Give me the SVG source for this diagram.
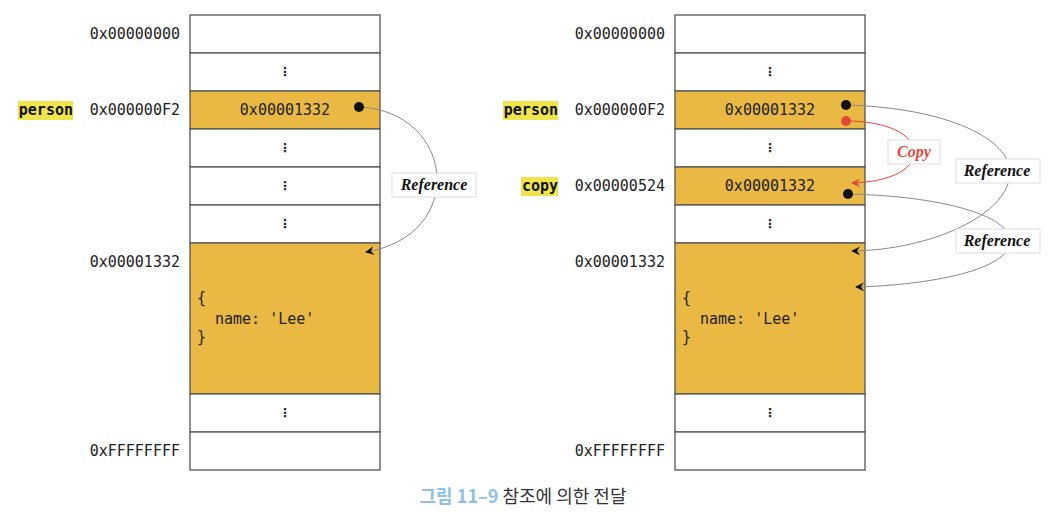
<svg xmlns="http://www.w3.org/2000/svg" width="1062" height="522" viewBox="0 0 1062 522">
<style>
.cell{fill:#fff;stroke:#555;stroke-width:1.3}
.y{fill:#E9B943}
.mono{font-family:"DejaVu Sans Mono","Liberation Mono",monospace;font-size:15px;fill:#222}
.addr{text-anchor:end}
.val{text-anchor:middle}
.var{font-family:"DejaVu Sans Mono","Liberation Mono",monospace;font-size:15px;font-weight:bold;fill:#111;text-anchor:end}
.hl{fill:#EDE54B}
.dots{font-family:"DejaVu Sans",sans-serif;font-size:12px;font-weight:bold;fill:#222;text-anchor:middle}
.conn{fill:none;stroke:#888;stroke-width:1}
.red{stroke:#E0483C}
.lbox{fill:#fff;stroke:#ddd;stroke-width:1}
.ltxt{font-family:"Liberation Serif",serif;font-style:italic;font-weight:bold;font-size:16px;fill:#111;text-anchor:middle}
</style>
<defs>
<marker id="arr" viewBox="0 0 10 10" refX="9" refY="5" markerWidth="9" markerHeight="9" markerUnits="userSpaceOnUse" orient="auto">
<path d="M10,5 L0,0 L3.5,5 L0,10 Z" fill="#111"/>
</marker>
<marker id="arrR" viewBox="0 0 10 10" refX="9" refY="5" markerWidth="9" markerHeight="9" markerUnits="userSpaceOnUse" orient="auto">
<path d="M10,5 L0,0 L3.5,5 L0,10 Z" fill="#E0483C"/>
</marker>
</defs>
<rect width="1062" height="522" fill="#fff"/>

<!-- LEFT MEMORY -->
<g id="left-memory">
<g id="L-r0"><rect class="cell" x="190" y="15" width="190" height="38"/><text class="mono addr" x="180" y="39">0x00000000</text></g>
<g id="L-r1"><rect class="cell" x="190" y="53" width="190" height="38"/><text class="dots" x="285" y="76">⋮</text></g>
<g id="L-r2"><rect class="cell y" x="190" y="91" width="190" height="38"/><text class="mono val" x="285" y="115">0x00001332</text><text class="mono addr" x="180" y="115">0x000000F2</text><rect class="hl" x="18" y="101" width="55" height="19"/><text class="var" x="73" y="115">person</text></g>
<g id="L-r3"><rect class="cell" x="190" y="129" width="190" height="38"/><text class="dots" x="285" y="152">⋮</text></g>
<g id="L-r4"><rect class="cell" x="190" y="167" width="190" height="38"/><text class="dots" x="285" y="190">⋮</text></g>
<g id="L-r5"><rect class="cell" x="190" y="205" width="190" height="38"/><text class="dots" x="285" y="228">⋮</text></g>
<g id="L-r6"><rect class="cell y" x="190" y="243" width="190" height="151"/><text class="mono addr" x="180" y="267">0x00001332</text>
<text class="mono" x="197" y="303">{</text><text class="mono" x="215" y="324">name: 'Lee'</text><text class="mono" x="197" y="342">}</text></g>
<g id="L-r7"><rect class="cell" x="190" y="394" width="190" height="38"/><text class="dots" x="285" y="417">⋮</text></g>
<g id="L-r8"><rect class="cell" x="190" y="432" width="190" height="38"/><text class="mono addr" x="180" y="456">0xFFFFFFFF</text></g>
</g>

<!-- RIGHT MEMORY -->
<g id="right-memory">
<g id="R-r0"><rect class="cell" x="675" y="15" width="190" height="38"/><text class="mono addr" x="665" y="39">0x00000000</text></g>
<g id="R-r1"><rect class="cell" x="675" y="53" width="190" height="38"/><text class="dots" x="770" y="76">⋮</text></g>
<g id="R-r2"><rect class="cell y" x="675" y="91" width="190" height="38"/><text class="mono val" x="770" y="115">0x00001332</text><text class="mono addr" x="665" y="115">0x000000F2</text><rect class="hl" x="503" y="101" width="55" height="19"/><text class="var" x="558" y="115">person</text></g>
<g id="R-r3"><rect class="cell" x="675" y="129" width="190" height="38"/><text class="dots" x="770" y="152">⋮</text></g>
<g id="R-r4"><rect class="cell y" x="675" y="167" width="190" height="38"/><text class="mono val" x="770" y="191">0x00001332</text><text class="mono addr" x="665" y="191">0x00000524</text><rect class="hl" x="521" y="177" width="37" height="19"/><text class="var" x="558" y="191">copy</text></g>
<g id="R-r5"><rect class="cell" x="675" y="205" width="190" height="38"/><text class="dots" x="770" y="228">⋮</text></g>
<g id="R-r6"><rect class="cell y" x="675" y="243" width="190" height="151"/><text class="mono addr" x="665" y="267">0x00001332</text>
<text class="mono" x="682" y="303">{</text><text class="mono" x="700" y="324">name: 'Lee'</text><text class="mono" x="682" y="342">}</text></g>
<g id="R-r7"><rect class="cell" x="675" y="394" width="190" height="38"/><text class="dots" x="770" y="417">⋮</text></g>
<g id="R-r8"><rect class="cell" x="675" y="432" width="190" height="38"/><text class="mono addr" x="665" y="456">0xFFFFFFFF</text></g>
</g>

<!-- CONNECTORS -->
<g id="connectors">
<path class="conn" d="M360,107 C455,112 468,235 366,252" marker-end="url(#arr)"/>
<path class="conn red" d="M846,121 C888,121 914,135 914,152 C914,172 885,182 852,183" marker-end="url(#arrR)"/>
<path class="conn" d="M846,105 C950,108 1010,140 1010,172 C1010,215 930,250 852,251" marker-end="url(#arr)"/>
<path class="conn" d="M848,194 C940,196 1010,215 1010,241 C1010,270 930,285 856,287" marker-end="url(#arr)"/>
<circle cx="359" cy="107" r="5" fill="#111"/>
<circle cx="846" cy="105" r="5" fill="#111"/>
<circle cx="846" cy="121" r="5" fill="#E0483C"/>
<circle cx="848" cy="194" r="5" fill="#111"/>
</g>

<!-- LABELS -->
<g id="label-ref-left"><rect class="lbox" x="392" y="173" width="84" height="24"/><text class="ltxt" x="434" y="190">Reference</text></g>
<g id="label-copy"><rect class="lbox" x="888" y="140" width="52" height="24"/><text class="ltxt" x="914" y="157" style="fill:#E0483C">Copy</text></g>
<g id="label-ref-r1"><rect class="lbox" x="956" y="159" width="84" height="24"/><text class="ltxt" x="997" y="176">Reference</text></g>
<g id="label-ref-r2"><rect class="lbox" x="956" y="229" width="84" height="24"/><text class="ltxt" x="997" y="246">Reference</text></g>

<g id="caption">
<text x="523" y="503" text-anchor="middle" font-family="'Noto Sans CJK KR','Noto Sans',sans-serif" font-size="18"><tspan fill="#8DC0E6" font-weight="bold">그림 11–9</tspan><tspan fill="#333"> 참조에 의한 전달</tspan></text>
</g>
</svg>
